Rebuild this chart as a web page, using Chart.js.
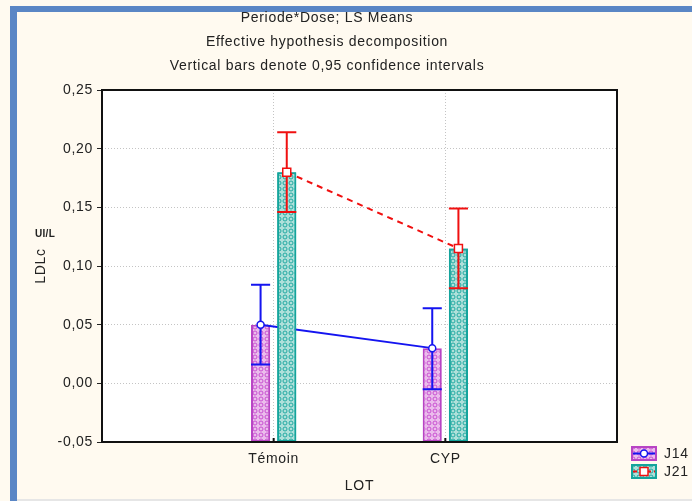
<!DOCTYPE html>
<html>
<head>
<meta charset="utf-8">
<script src="https://cdn.jsdelivr.net/npm/chart.js@4.4.0/dist/chart.umd.min.js"></script>
<style>
  body { margin: 0; background: #fffaf0; width: 692px; height: 501px; overflow: hidden; position: relative; }
  #frameTop { position: absolute; left: 10px; top: 6px; width: 682px; height: 6px; background: #5a86c5; }
  #frameLeft { position: absolute; left: 10px; top: 6px; width: 7px; height: 495px; background: #5a86c5; }
  #frameBottom { position: absolute; left: 17px; top: 499px; width: 675px; height: 2px; background: #e6e6e6; }
  canvas { position: absolute; left: 0; top: 0; }
</style>
</head>
<body>
<div id="frameTop"></div>
<div id="frameLeft"></div>
<div id="frameBottom"></div>
<canvas id="myChart" width="692" height="501"></canvas>
<script>
const titleLines = [
  "Periode*Dose; LS Means",
  "Effective hypothesis decomposition",
  "Vertical bars denote 0,95 confidence intervals"
];
const categories = ["Témoin", "CYP"];
const seriesNames = ["J14", "J21"];
const j14Means = [0.050, 0.030];
const j14Lower = [0.016, -0.005];
const j14Upper = [0.084, 0.064];
const j21Means = [0.180, 0.115];
const j21Lower = [0.146, 0.081];
const j21Upper = [0.214, 0.149];
const yTicks = [-0.05, 0.00, 0.05, 0.10, 0.15, 0.20, 0.25];

Chart.defaults.font.family = "'Liberation Sans', Arial, sans-serif";
Chart.defaults.font.size = 14;
Chart.defaults.color = "#222";

// little circle pattern like the statistica fill
function makePattern(base, ring) {
  const c = document.createElement("canvas");
  c.width = 6;
  c.height = 6;
  const g = c.getContext("2d");
  g.fillStyle = base;
  g.fillRect(0, 0, 6, 6);
  g.strokeStyle = ring;
  g.lineWidth = 1;
  g.beginPath();
  g.arc(3, 3, 2, 0, Math.PI * 2);
  g.stroke();
  return document.createElement("canvas").getContext("2d").createPattern(c, "repeat");
}

const pinkFill = makePattern("#ebbcec", "#c850d0");
const tealFill = makePattern("#afe0da", "#22aaa2");

const series = [
  { means: j14Means, lower: j14Lower, upper: j14Upper, color: "#1414f0", dash: [], marker: "circle", fill: pinkFill, border: "#b844c4" },
  { means: j21Means, lower: j21Lower, upper: j21Upper, color: "#f01010", dash: [6, 5], marker: "square", fill: tealFill, border: "#14a49c" }
];

const labels = ["", ...categories, ""];
const yMin = yTicks[0];
const yMax = yTicks[yTicks.length - 1];

function drawMarker(ctx, kind, x, y, color) {
  ctx.save();
  ctx.fillStyle = "#fff";
  ctx.strokeStyle = color;
  ctx.lineWidth = 1.5;
  ctx.setLineDash([]);
  ctx.beginPath();
  if (kind === "circle") {
    ctx.arc(x, y, 3.5, 0, Math.PI * 2);
  } else {
    ctx.rect(x - 4, y - 4, 8, 8);
  }
  ctx.fill();
  ctx.stroke();
  ctx.restore();
}

// line + CI + markers for one series, on top of its bars
function drawOverlay(chart, k) {
  const s = series[k];
  const ctx = chart.ctx;
  const y = chart.scales.y;
  const meta = chart.getDatasetMeta(k);
  const bars = categories.map((c, i) => meta.data[i + 1]);

  ctx.save();
  ctx.strokeStyle = s.color;
  ctx.lineWidth = 2;
  ctx.setLineDash(s.dash);
  ctx.beginPath();
  bars.forEach((b, i) => {
    const py = y.getPixelForValue(s.means[i]);
    if (i === 0) ctx.moveTo(b.x, py);
    else ctx.lineTo(b.x, py);
  });
  ctx.stroke();

  ctx.setLineDash([]);
  bars.forEach((b, i) => {
    const hw = b.width / 2;
    const top = y.getPixelForValue(s.upper[i]);
    const bot = y.getPixelForValue(s.lower[i]);
    ctx.beginPath();
    ctx.moveTo(b.x, top);
    ctx.lineTo(b.x, bot);
    ctx.moveTo(b.x - hw, top);
    ctx.lineTo(b.x + hw, top);
    ctx.moveTo(b.x - hw, bot);
    ctx.lineTo(b.x + hw, bot);
    ctx.stroke();
  });
  ctx.restore();

  bars.forEach((b, i) => drawMarker(ctx, s.marker, b.x, y.getPixelForValue(s.means[i]), s.color));
}

const errorBarPlugin = {
  id: "errorBars",
  beforeDraw(chart) {
    const { ctx, chartArea: a } = chart;
    ctx.letterSpacing = "0.7px";
    ctx.save();
    ctx.fillStyle = "#fff";
    ctx.fillRect(a.left, a.top, a.right - a.left, a.bottom - a.top);
    ctx.restore();
  },
  afterDatasetsDraw(chart) {
    drawOverlay(chart, 0);
    // J21 bars go over the J14 line, as in the original
    chart.getDatasetMeta(1).data.forEach((el) => {
      if (!el.skip) el.draw(chart.ctx);
    });
    drawOverlay(chart, 1);
  },
  afterDraw(chart) {
    const { ctx, chartArea: a } = chart;
    ctx.save();
    // plot frame
    ctx.strokeStyle = "#111";
    ctx.lineWidth = 2;
    ctx.strokeRect(a.left, a.top, a.right - a.left, a.bottom - a.top);

    // small inner ticks on the category axis
    const x = chart.scales.x;
    ctx.lineWidth = 2;
    categories.forEach((c, i) => {
      const px = x.getPixelForTick(i + 1);
      ctx.beginPath();
      ctx.moveTo(px, a.bottom);
      ctx.lineTo(px, a.bottom - 4);
      ctx.stroke();
    });

    // titles
    ctx.fillStyle = "#222";
    ctx.font = "14px 'Liberation Sans', Arial, sans-serif";
    ctx.textAlign = "center";
    ctx.textBaseline = "middle";
    titleLines.forEach((t, i) => ctx.fillText(t, 327, 18 + i * 24));

    // unit above the y title
    ctx.letterSpacing = "0.3px";
    ctx.font = "bold 10px 'Liberation Sans', Arial, sans-serif";
    ctx.fillText("UI/L", 45, 234);
    ctx.letterSpacing = "0.7px";

    // legend
    ctx.textAlign = "left";
    ctx.font = "14px 'Liberation Sans', Arial, sans-serif";
    series.forEach((s, i) => {
      const bx = a.right + 14;
      const by = a.bottom + 4 + i * 18;
      ctx.fillStyle = s.fill;
      ctx.fillRect(bx, by, 26, 15);
      ctx.strokeStyle = s.border;
      ctx.lineWidth = 2;
      ctx.strokeRect(bx + 1, by + 1, 24, 13);
      ctx.strokeStyle = s.color;
      ctx.setLineDash(s.dash.length ? [4, 3] : []);
      ctx.beginPath();
      ctx.moveTo(bx + 2, by + 7.5);
      ctx.lineTo(bx + 24, by + 7.5);
      ctx.stroke();
      ctx.setLineDash([]);
      drawMarker(ctx, s.marker, bx + 13, by + 7.5, s.color);
      ctx.fillStyle = "#222";
      ctx.fillText(seriesNames[i], bx + 33, by + 8);
    });
    ctx.restore();
  }
};

const datasets = series.map((s, k) => ({
  label: seriesNames[k],
  data: [null, ...s.means.map((v) => [yMin, v]), null],
  backgroundColor: s.fill,
  borderColor: s.border,
  borderWidth: 2,
  borderSkipped: false,
  categoryPercentage: 0.305,
  barPercentage: 0.73
}));

const config = {
  type: "bar",
  data: { labels, datasets },
  options: {
    responsive: false,
    animation: false,
    layout: { padding: { top: 90, left: 33, right: 75, bottom: 6 } },
    plugins: {
      legend: { display: false },
      title: { display: false },
      tooltip: { enabled: false }
    },
    scales: {
      x: {
        offset: false,
        grid: { offset: false, color: "#c4c4c4", drawTicks: false },
        border: { display: false, dash: [1, 2] },
        ticks: { padding: 9, color: "#222", autoSkip: false, maxRotation: 0 },
        title: { display: true, text: "LOT", color: "#222", padding: { top: 4, bottom: 0 } },
        afterFit(scale) { scale.height = 53; }
      },
      y: {
        min: yMin,
        max: yMax,
        grid: { color: "#c4c4c4", tickColor: "#222", tickLength: 5 },
        border: { display: false, dash: [1, 2] },
        afterBuildTicks(scale) { scale.ticks = yTicks.map((v) => ({ value: v })); },
        ticks: {
          padding: 4,
          color: "#222",
          callback: (v) => Number(v).toFixed(2).replace(".", ",")
        },
        title: { display: true, text: "LDLc", color: "#222", padding: { top: 0, bottom: 0 } },
        afterFit(scale) { scale.width = 69; }
      }
    }
  },
  plugins: [errorBarPlugin]
};

new Chart(document.getElementById("myChart"), config);
</script>
</body>
</html>
